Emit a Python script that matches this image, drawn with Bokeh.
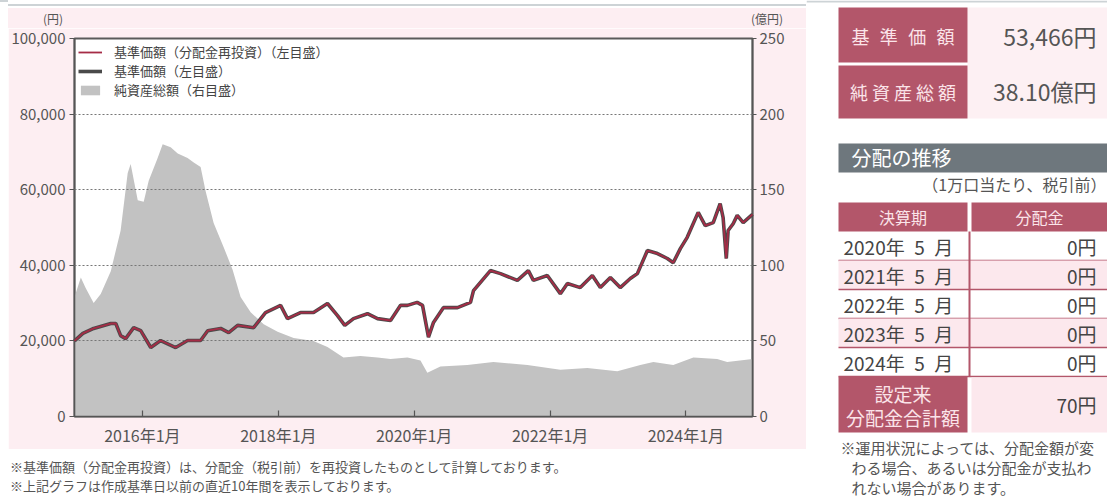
import pandas as pd
from datetime import datetime
from bokeh.plotting import figure
from bokeh.models import (Range1d, LinearAxis, FixedTicker, NumeralTickFormatter,
                          CustomJSTickFormatter, Legend, LegendItem, ColumnDataSource, Div)
from bokeh.layouts import row, column
from bokeh.embed import file_html
from bokeh.resources import INLINE
from bokeh.core.properties import value

FONT = "Noto Sans CJK JP"

# ---------------- data ----------------
nav_dates = ["2015-01-01", "2015-02-15", "2015-04-14", "2015-07-15", "2015-08-11", "2015-09-06",
             "2015-10-03", "2015-11-15", "2015-12-23", "2016-02-15", "2016-04-08", "2016-06-28",
             "2016-08-31", "2016-11-09", "2016-12-17", "2017-02-25", "2017-04-09", "2017-05-27",
             "2017-08-21", "2017-10-24", "2018-01-13", "2018-02-19", "2018-04-30", "2018-07-09",
             "2018-09-22", "2018-11-15", "2018-12-24", "2019-02-09", "2019-04-25", "2019-06-18",
             "2019-08-27", "2019-10-20", "2019-11-26", "2020-01-17", "2020-02-15", "2020-03-18",
             "2020-04-14", "2020-06-06", "2020-08-21", "2020-10-30", "2020-11-15", "2021-02-14",
             "2021-04-09", "2021-07-09", "2021-09-06", "2021-10-03", "2021-12-17", "2022-02-25",
             "2022-04-04", "2022-06-12", "2022-08-16", "2022-09-28", "2022-11-21", "2023-01-13",
             "2023-03-08", "2023-04-15", "2023-06-08", "2023-08-01", "2023-09-23", "2023-10-25",
             "2023-12-02", "2024-01-08", "2024-03-07", "2024-04-14", "2024-05-27", "2024-07-03",
             "2024-07-19", "2024-08-05", "2024-08-15", "2024-09-11", "2024-10-03", "2024-11-04",
             "2024-12-24"]
nav_values = [20000, 22000, 23300, 24600, 24600, 21400, 20600, 23500, 22700, 18250, 20100, 18250,
              20100, 20100, 22700, 23300, 22200, 24100, 23500, 27500, 29400, 25900, 27500, 27500,
              29900, 26700, 24100, 25900, 27200, 25900, 25400, 29400, 29400, 30200, 29400, 21000,
              24900, 28800, 28800, 30200, 33300, 38600, 37800, 36000, 38600, 36000, 37300, 32500,
              35200, 34100, 37300, 34100, 36800, 34100, 36500, 37800, 43900, 43100, 41800, 40700,
              44400, 47400, 54000, 50500, 51300, 56300, 52600, 41800, 49200, 51000, 53200, 51300,
              53466]
# reinvested NAV overlaps the NAV line on this scale
nav_reinv_values = list(nav_values)

asset_dates = ["2015-01-01", "2015-02-04", "2015-03-02", "2015-04-14", "2015-05-22", "2015-07-15",
               "2015-09-06", "2015-10-14", "2015-10-30", "2015-12-07", "2016-01-08", "2016-02-04",
               "2016-03-23", "2016-04-19", "2016-06-01", "2016-07-09", "2016-08-31", "2016-10-03",
               "2016-11-09", "2016-12-06", "2017-01-18", "2017-03-13", "2017-04-30", "2017-06-12",
               "2017-08-05", "2017-10-14", "2017-12-28", "2018-03-24", "2018-07-09", "2018-09-22",
               "2018-12-17", "2019-03-18", "2019-06-18", "2019-08-27", "2019-11-26", "2020-02-04",
               "2020-03-12", "2020-05-21", "2020-10-13", "2021-03-02", "2021-09-01", "2022-02-25",
               "2022-07-20", "2022-12-28", "2023-05-01", "2023-07-10", "2023-10-25", "2024-02-10",
               "2024-06-17", "2024-08-10", "2024-12-24"]
asset_values = [79, 92, 85, 75, 81, 96, 123, 161, 167, 143, 142, 156, 171, 180, 178, 174, 171, 168,
                165, 149, 128, 112, 97, 79, 69, 61, 56, 52, 50, 46, 39, 40, 39, 38, 39, 37, 29, 33,
                34, 36, 34, 31, 32, 30, 34, 36, 34, 39, 38, 36, 38.1]

x_tick_dates = ["2016-01-01", "2018-01-01", "2020-01-01", "2022-01-01", "2024-01-01"]
left_ticks = [0, 20000, 40000, 60000, 80000, 100000]
right_ticks = [0, 50, 100, 150, 200, 250]

legend_labels = ["基準価額（分配金再投資）（左目盛）", "基準価額（左目盛）", "純資産総額（右目盛）"]
left_unit = "(円)"
right_unit = "(億円)"

footnotes = ["※基準価額（分配金再投資）は、分配金（税引前）を再投資したものとして計算しております。",
             "※上記グラフは作成基準日以前の直近10年間を表示しております。"]

kijun_label = "基準価額"
kijun_value = "53,466円"
nav_total_label = "純資産総額"
nav_total_value = "38.10億円"
dist_title = "分配の推移"
dist_sub = "（1万口当たり、税引前）"
dist_headers = ["決算期", "分配金"]
dist_periods = ["2020年\u20025\u2002月", "2021年\u20025\u2002月", "2022年\u20025\u2002月",
                "2023年\u20025\u2002月", "2024年\u20025\u2002月"]
dist_amounts = ["0円", "0円", "0円", "0円", "0円"]
total_label = ["設定来", "分配金合計額"]
total_value = "70円"
panel_notes = ["※運用状況によっては、分配金額が変", "わる場合、あるいは分配金が支払わ", "れない場合があります。"]

# ---------------- colours ----------------
PINK = "#fdeef2"
MAROON = "#b3566a"
TXT = "#555555"
TOPLINE = "#cdd3d6"


def html_block(width, height, bg, items, size, color, top_line=False):
    """items: (left, top, text, align) in block pixels"""
    spans = []
    for left, top, text, align in items:
        tx = "-50%" if align == "center" else "0"
        spans.append(
            f'<span style="position:absolute;left:{left}px;top:{top}px;'
            f'transform:translate({tx},-50%);white-space:nowrap;line-height:1.2;">{text}</span>')
    border = f"border-top:2px solid {TOPLINE};box-sizing:border-box;" if top_line else ""
    inner = (f'<div style="position:relative;width:{width}px;height:{height}px;{border}'
             f'font-family:\'{FONT}\';font-size:{size};color:{color};">'
             + "".join(spans) + "</div>")
    return Div(text=inner, width=width, height=height, margin=0,
               styles={"background-color": bg})


top_left_spacer = html_block(8, 497, "white", [], "12px", TXT, top_line=True)
top_bar = html_block(798, 8, "white", [], "12px", TXT, top_line=True)

# ---------------- unit strip above chart (page y 8..28) ----------------
strip = html_block(798, 20, PINK, [(53 - 8, 19 - 8, left_unit, "center"),
                                   (767 - 8, 19 - 8, right_unit, "center")], "12px", TXT)

# ---------------- chart (page y 28..448) ----------------
nav_src = ColumnDataSource(dict(x=pd.to_datetime(nav_dates), y=nav_values, yr=nav_reinv_values))
as_src = ColumnDataSource(dict(x=pd.to_datetime(asset_dates), y=asset_values))

x0 = datetime(2015, 1, 1)
x1 = datetime(2024, 12, 24)
p = figure(frame_width=678, frame_height=378, min_border_left=66, min_border_right=54,
           min_border_top=10, min_border_bottom=32, x_axis_type="datetime",
           x_range=Range1d(x0, x1), y_range=Range1d(0, 100000),
           output_backend="svg", toolbar_location=None,
           background_fill_color="white", border_fill_color=PINK)
p.extra_y_ranges = {"assets": Range1d(0, 250)}

area = p.varea(x="x", y1=0, y2="y", source=as_src, y_range_name="assets",
               fill_color="#c2c2c2", fill_alpha=1.0)
dark = p.line(x="x", y="y", source=nav_src, line_color="#4a4a4a", line_width=3.6, level="annotation")
red = p.line(x="x", y="yr", source=nav_src, line_color="#a52c46", line_width=1.8, level="annotation")

la = p.left[0]
la.ticker = FixedTicker(ticks=left_ticks)
la.formatter = NumeralTickFormatter(format="0,0")
ra = LinearAxis(y_range_name="assets", ticker=FixedTicker(ticks=right_ticks))
p.add_layout(ra, "right")
ba = p.below[0]
ba.ticker = FixedTicker(ticks=[pd.Timestamp(d).value // 10**6 for d in x_tick_dates])
ba.formatter = CustomJSTickFormatter(code="""
const d = new Date(tick);
return d.getUTCFullYear() + "年" + (d.getUTCMonth() + 1) + "月";
""")
for ax in (la, ra, ba):
    ax.axis_line_color = "#555555"
    ax.axis_line_width = 1.6
    ax.major_tick_line_color = "#555555"
    ax.major_tick_line_width = 1.2
    ax.minor_tick_line_color = None
    ax.major_label_text_color = TXT
    ax.major_label_text_font = FONT
la.major_label_text_font_size = "15px"
ra.major_label_text_font_size = "15px"
ba.major_label_text_font_size = "16px"
la.major_tick_out, la.major_tick_in, la.major_label_standoff = 5, 0, 4
ra.major_tick_out, ra.major_tick_in, ra.major_label_standoff = 4, 0, 3
ba.major_tick_out, ba.major_tick_in, ba.major_label_standoff = 0, 6, 6

p.outline_line_color = "#5a5a5a"
p.outline_line_width = 2
p.xgrid.grid_line_color = None
p.ygrid.ticker = FixedTicker(ticks=[20000, 40000, 60000, 80000])
p.ygrid.grid_line_color = "#777777"
p.ygrid.grid_line_dash = "2 2"
p.ygrid.grid_line_width = 1.2
p.ygrid.level = "guide"

legend = Legend(items=[LegendItem(label=legend_labels[0], renderers=[red]),
                       LegendItem(label=legend_labels[1], renderers=[dark]),
                       LegendItem(label=legend_labels[2], renderers=[area])],
                location="top_left", margin=2, padding=2, spacing=-4,
                glyph_width=24, glyph_height=12, label_height=12, label_standoff=12,
                label_text_font=FONT, label_text_font_size="13px", label_text_color="#444444",
                label_text_line_height=1.0,
                border_line_alpha=0, background_fill_alpha=0)
p.add_layout(legend)

# ---------------- footnotes (page y 448..497) ----------------
foot = html_block(798, 49, "white", [(2, 466 - 448, footnotes[0], "left"),
                                     (2, 485 - 448, footnotes[1], "left")], "13px", TXT)

# ---------------- right panel ----------------
q = figure(width=301, height=497, x_range=Range1d(806, 1107), y_range=Range1d(497, 0),
           min_border=0, toolbar_location=None, output_backend="svg",
           x_axis_location=None, y_axis_location=None, outline_line_color=None,
           background_fill_color="white", border_fill_color="white")
q.grid.visible = False


def box(l, r, t, b, color):
    q.quad(left=[l], right=[r], top=[t], bottom=[b], fill_color=color, line_color=None)


def txt(xs, ys, texts, size, color, align="left"):
    q.text(x=xs, y=ys, text=texts, text_font=value(FONT), text_font_size=size,
           text_color=color, text_align=align, text_baseline="middle")


LX0, LX1, RX0, RX1 = 838, 967, 971, 1107
LIGHT = "#fbe4e9"

box(806, 1107, 0, 2, TOPLINE)
box(967, 1107, 7, 118, "#fdf0f3")
box(LX0, LX1, 7, 62, MAROON)
box(LX0, LX1, 65, 118, MAROON)
k_chars = list(kijun_label)
k_step = (945 - 860) / (len(k_chars) - 1)
txt([860 + i * k_step for i in range(len(k_chars))], [35] * len(k_chars), k_chars, "18px", LIGHT, "center")
n_chars = list(nav_total_label)
n_step = (946.5 - 858.5) / (len(n_chars) - 1)
txt([858.5 + i * n_step for i in range(len(n_chars))], [91] * len(n_chars), n_chars, "18px", LIGHT, "center")
txt([1096], [35], [kijun_value], "23px", TXT, "right")
txt([1096], [90], [nav_total_value], "23px", TXT, "right")

box(LX0, 1107, 143, 172, "#6e777d")
txt([851], [157], [dist_title], "20px", "white")
txt([1106], [183], [dist_sub], "16px", TXT, "right")
box(LX0, LX1, 202, 231, MAROON)
box(RX0, RX1, 202, 231, MAROON)
txt([(LX0 + LX1) / 2, (RX0 + RX1) / 2], [216.5, 216.5], dist_headers, "16px", LIGHT, "center")

ROW_H = 29
for i, (per, amt) in enumerate(zip(dist_periods, dist_amounts)):
    top = 231 + i * ROW_H
    if i % 2 == 1:
        box(LX0, 1107, top, top + ROW_H, "#fce8ed")
    txt([843], [top + ROW_H / 2], [per], "19px", "#444444")
    txt([1096], [top + ROW_H / 2], [amt], "19px", "#444444", "right")
    q.segment(x0=[LX0], y0=[top + ROW_H], x1=[1107], y1=[top + ROW_H], line_color=MAROON, line_width=1.5)

tot_top = 231 + len(dist_periods) * ROW_H
box(LX0, LX1, tot_top, 432, MAROON)
box(RX0, RX1, tot_top + 1, 432, "#fce8ed")
txt([(LX0 + LX1) / 2] * 2, [393, 417], total_label, "19px", LIGHT, "center")
txt([1096], [404], [total_value], "19px", "#444444", "right")
q.segment(x0=[969], y0=[231], x1=[969], y1=[tot_top], line_color=MAROON, line_width=2)

txt([840, 851, 851], [447, 467, 487], panel_notes, "15px", TXT)

left_col = column(top_bar, strip, p, foot)
layout = row(top_left_spacer, left_col, q)
open("out.html", "w").write(file_html(layout, INLINE))
